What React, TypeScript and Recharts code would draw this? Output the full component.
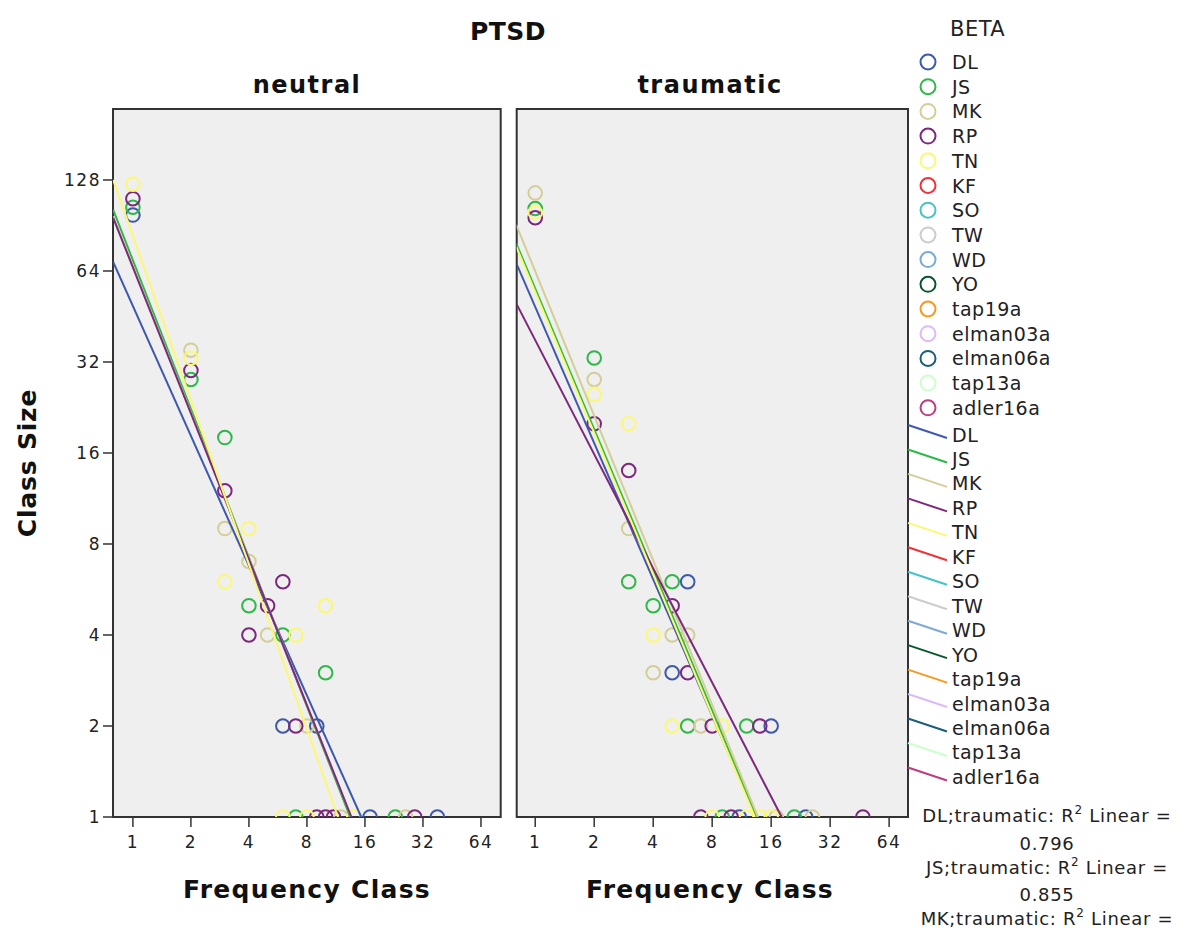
import React from 'react';
import { ComposedChart, Scatter, XAxis, YAxis, ReferenceArea, CartesianGrid } from 'recharts';

const seriesNames = ['DL', 'JS', 'MK', 'RP', 'TN', 'KF', 'SO', 'TW', 'WD', 'YO', 'tap19a', 'elman03a', 'elman06a', 'tap13a', 'adler16a'];
const seriesColors = ['#3E58AC', '#2EB848', '#D3CE97', '#7C287D', '#FBF873', '#EF3338', '#48C2C5', '#CCCCCC', '#7AAAD5', '#0A562C', '#F8981D', '#DDBAF1', '#1A5F76', '#CCFFCC', '#BB3F7F'];

const xTickValues = [1, 2, 4, 8, 16, 32, 64];
const yTickValues = [1, 2, 4, 8, 16, 32, 64, 128];

// [frequency class, class size]
const neutralDL = [[1, 98], [6, 2], [9, 2], [17, 1], [38, 1]];
const neutralJS = [[1, 104], [2, 28], [3, 18], [4, 5], [6, 4], [10, 3], [7, 1], [23, 1]];
const neutralMK = [[2, 35], [3, 9], [4, 7], [5, 4], [8, 2], [12, 1], [26, 1]];
const neutralRP = [[1, 111], [2, 30], [3, 12], [4, 4], [5, 5], [6, 6], [7, 2], [9, 1], [10, 1], [11, 1], [29, 1]];
const neutralTN = [[1, 124], [2, 33], [3, 6], [4, 9], [7, 4], [10, 5], [6, 1], [8, 1], [14, 1]];

const traumaticDL = [[6, 6], [5, 3], [16, 2], [11, 1], [24, 1]];
const traumaticJS = [[1, 103], [2, 33], [3, 6], [4, 5], [5, 6], [6, 2], [12, 2], [9, 1], [21, 1]];
const traumaticMK = [[1, 116], [2, 28], [3, 9], [4, 3], [5, 4], [6, 4], [7, 2], [17, 1], [26, 1]];
const traumaticRP = [[1, 96], [2, 20], [3, 14], [5, 5], [6, 3], [8, 2], [14, 2], [7, 1], [10, 1], [47, 1]];
const traumaticTN = [[1, 100], [2, 25], [3, 20], [4, 4], [5, 2], [9, 2], [8, 1], [12, 1], [14, 1], [16, 1]];

// linear fit lines (log-log): class size at left edge, frequency class where size reaches 1
const neutralFitStartX = 0.79;
const neutralFitStartY = [68.6, 102, 97, 96, 128];
const neutralFitEndX = [15.3, 13.4, 13.6, 13.6, 11.6];
const traumaticFitStartX = 0.8;
const traumaticFitStartY = [68, 79, 91, 50, 77];
const traumaticFitEndX = [13.4, 13.5, 13.7, 18.1, 13.2];

const r2Lines = ['DL;traumatic: R', ' Linear =', '0.796', 'JS;traumatic: R', ' Linear =', '0.855', 'MK;traumatic: R', ' Linear ='];

const FONT = '"DejaVu Sans", sans-serif';
const log2 = (v: number) => Math.log(v) / Math.LN2;
const toPts = (arr: number[][]) => arr.map(([f, s]) => ({ x: log2(f), y: log2(s) }));

const Y_TOP = 7.78;
const R = 6.8;

function ring(color: string) {
  return (p: any) => {
    const onFloor = p.payload && p.payload.y === 0;
    if (onFloor) {
      return (
        <path
          d={`M ${p.cx - R} ${p.cy} A ${R} ${R} 0 0 1 ${p.cx + R} ${p.cy}`}
          fill="none"
          stroke={color}
          strokeWidth={2}
        />
      );
    }
    return <circle cx={p.cx} cy={p.cy} r={R} fill="none" stroke={color} strokeWidth={2} />;
  };
}

const tickStyle = { fill: '#222', fontSize: 17, fontFamily: FONT, letterSpacing: 1.5 };

function Panel(props: any) {
  const { left, width, marginLeft, marginRight, xDomain, showY, sets, fitStartX, fitStartY, fitEndX } = props;
  const xt = xTickValues.map(log2);
  const yt = yTickValues.map(log2);
  return (
    <div style={{ position: 'absolute', left, top: 0 }}>
      <ComposedChart width={width} height={945} margin={{ top: 109, right: marginRight, bottom: 88, left: marginLeft }}>
        <CartesianGrid fill="#EFEFEF" horizontal={false} vertical={false} stroke="none" />
        <XAxis
          type="number"
          dataKey="x"
          domain={xDomain}
          ticks={xt}
          allowDataOverflow
          axisLine={false}
          tickLine={{ stroke: '#333', strokeWidth: 1.5 }}
          tickSize={10}
          tickMargin={9}
          height={40}
          tick={tickStyle}
          tickFormatter={(v: number) => String(Math.round(Math.pow(2, v)))}
        />
        <YAxis
          type="number"
          dataKey="y"
          domain={[0, Y_TOP]}
          ticks={yt}
          allowDataOverflow
          hide={!showY}
          width={60}
          axisLine={false}
          tickLine={{ stroke: '#333', strokeWidth: 1.5 }}
          tickSize={10}
          tickMargin={2}
          tick={tickStyle}
          tickFormatter={(v: number) => String(Math.round(Math.pow(2, v)))}
        />
        {sets.map((s: number[][], i: number) => (
          <Scatter key={'p' + i} data={toPts(s)} shape={ring(seriesColors[i])} isAnimationActive={false} />
        ))}
        {fitStartY.map((sy: number, i: number) => (
          <Scatter
            key={'f' + i}
            data={[{ x: log2(fitStartX), y: log2(sy) }, { x: log2(fitEndX[i]), y: 0 }]}
            line={{ stroke: seriesColors[i], strokeWidth: 2 }}
            shape={() => <g />}
            isAnimationActive={false}
          />
        ))}
        <ReferenceArea x1={xDomain[0]} x2={xDomain[1]} y1={0} y2={Y_TOP} fill="none" fillOpacity={0} stroke="#333" strokeWidth={2} ifOverflow="visible" />
      </ComposedChart>
    </div>
  );
}

export default function App() {
  const circleRow0 = 62;
  const circleStep = 24.7;
  const lineRow0 = 434.5;
  const lineStep = 24.46;
  const legendText = { fontSize: 19, fill: '#222', fontFamily: FONT, letterSpacing: 0.5 };
  return (
    <div style={{ position: 'absolute', left: 0, top: 0, width: 1186, height: 945, background: '#fff', fontFamily: FONT }}>
      <Panel
        left={0}
        width={510}
        marginLeft={53}
        marginRight={9.3}
        xDomain={[-0.343, 6.34]}
        showY
        sets={[neutralDL, neutralJS, neutralMK, neutralRP, neutralTN]}
        fitStartX={neutralFitStartX}
        fitStartY={neutralFitStartY}
        fitEndX={neutralFitEndX}
      />
      <Panel
        left={505}
        width={410}
        marginLeft={11.7}
        marginRight={7}
        xDomain={[-0.314, 6.32]}
        showY={false}
        sets={[traumaticDL, traumaticJS, traumaticMK, traumaticRP, traumaticTN]}
        fitStartX={traumaticFitStartX}
        fitStartY={traumaticFitStartY}
        fitEndX={traumaticFitEndX}
      />
      <svg width={1186} height={945} style={{ position: 'absolute', left: 0, top: 0, pointerEvents: 'none' }}>
        <text x={508} y={40} textAnchor="middle" fontSize={25} fontWeight="bold" fill="#111" fontFamily={FONT} letterSpacing={0.5}>PTSD</text>
        <text x={307} y={93} textAnchor="middle" fontSize={24} fontWeight="bold" fill="#111" fontFamily={FONT} letterSpacing={1.5}>neutral</text>
        <text x={710} y={93} textAnchor="middle" fontSize={24} fontWeight="bold" fill="#111" fontFamily={FONT} letterSpacing={1.5}>traumatic</text>
        <text x={307} y={898} textAnchor="middle" fontSize={25} fontWeight="bold" fill="#111" fontFamily={FONT} letterSpacing={1.3}>Frequency Class</text>
        <text x={710} y={898} textAnchor="middle" fontSize={25} fontWeight="bold" fill="#111" fontFamily={FONT} letterSpacing={1.3}>Frequency Class</text>
        <text x={36} y={463} textAnchor="middle" fontSize={25} fontWeight="bold" fill="#111" fontFamily={FONT} letterSpacing={0.8} transform="rotate(-90 36 463)">Class Size</text>
        <text x={950} y={36} fontSize={21} fill="#222" fontFamily={FONT} letterSpacing={0.5}>BETA</text>
        {seriesNames.map((n, i) => (
          <g key={'lc' + i}>
            <circle cx={928} cy={circleRow0 + i * circleStep} r={7.5} fill="none" stroke={seriesColors[i]} strokeWidth={2} />
            <text x={952} y={circleRow0 + i * circleStep + 7} {...legendText}>{n}</text>
          </g>
        ))}
        {seriesNames.map((n, i) => (
          <g key={'ll' + i}>
            <line x1={908} y1={lineRow0 + i * lineStep - 9.5} x2={947} y2={lineRow0 + i * lineStep + 3.5} stroke={seriesColors[i]} strokeWidth={2} />
            <text x={952} y={lineRow0 + i * lineStep + 7} {...legendText}>{n}</text>
          </g>
        ))}
        {[0, 1, 2].map((k) => (
          <text key={'r' + k} x={1047} y={822 + k * 51.5} textAnchor="middle" fontSize={18} fill="#222" fontFamily={FONT} letterSpacing={0.7}>
            {r2Lines[k * 3]}
            <tspan dy={-8} fontSize={12}>2</tspan>
            <tspan dy={8}>{r2Lines[k * 3 + 1]}</tspan>
          </text>
        ))}
        {[0, 1].map((k) => (
          <text key={'v' + k} x={1047} y={850 + k * 51} textAnchor="middle" fontSize={18} fill="#222" fontFamily={FONT} letterSpacing={0.7}>
            {r2Lines[k * 3 + 2]}
          </text>
        ))}
      </svg>
    </div>
  );
}
